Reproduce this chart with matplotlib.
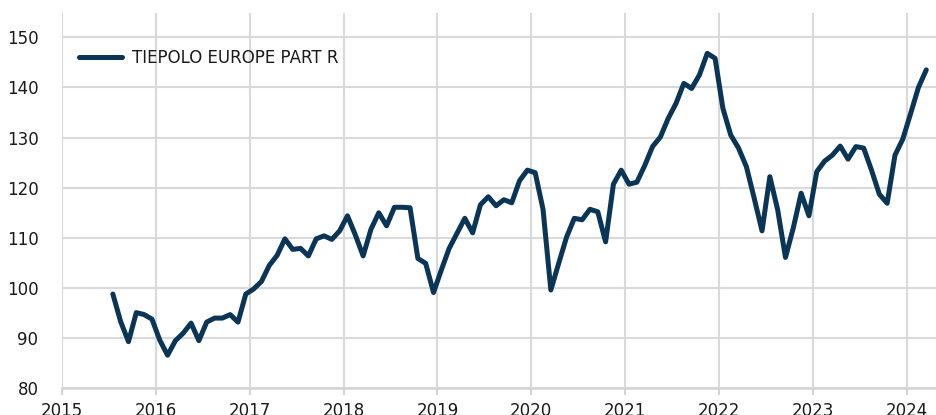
import numpy as np
import matplotlib
matplotlib.use("Agg")
import matplotlib.pyplot as plt

# monthly values, Jul 2015 .. Mar 2024
values = [
    98.8, 93.3, 89.3, 95.1, 94.7, 93.8,                                   # 2015 H2
    89.6, 86.6, 89.5, 91.0, 93.0, 89.5, 93.2, 94.0, 94.0, 94.7, 93.2, 98.8,  # 2016
    99.8, 101.3, 104.5, 106.5, 109.8, 107.7, 107.9, 106.4, 109.8, 110.4, 109.7, 111.4,  # 2017
    114.4, 110.6, 106.4, 111.7, 115.0, 112.4, 116.1, 116.1, 116.0, 105.9, 104.9, 99.1,  # 2018
    103.6, 107.9, 110.9, 113.9, 111.0, 116.6, 118.2, 116.4, 117.6, 117.0, 121.4, 123.5,  # 2019
    123.0, 115.7, 99.6, 104.9, 110.1, 113.9, 113.6, 115.7, 115.2, 109.2, 120.7, 123.5,  # 2020
    120.7, 121.1, 124.4, 128.2, 130.1, 133.8, 136.8, 140.8, 139.8, 142.5, 146.8, 145.8,  # 2021
    135.8, 130.5, 127.9, 124.2, 117.9, 111.4, 122.2, 115.6, 106.1, 112.0, 118.9, 114.4,  # 2022
    123.2, 125.3, 126.5, 128.3, 125.7, 128.2, 127.9, 123.5, 118.7, 116.9, 126.5, 129.7,  # 2023
    134.8, 140.0, 143.5,                                                  # 2024
]
label = "TIEPOLO EUROPE PART R"
years = list(range(2015, 2025))

# month index -> fractional year (mid-month), starting July 2015
x = 2015 + (6.5 + np.arange(len(values))) / 12.0

plt.rcParams['font.family'] = ['DejaVu Sans']

fig = plt.figure(figsize=(9.36, 4.15), dpi=100)
ax = fig.add_axes([62 / 936, 1 - 388.3 / 415, 874 / 936, (388.3 - 12.7) / 415])

ax.plot(x, values, color='#0a3556', lw=3.6, solid_joinstyle='round',
        solid_capstyle='round', label=label)

ax.set_xlim(2015, 2024.312)
ax.set_ylim(80, 154.9)
ax.set_xticks(years)
ax.set_xticklabels([str(y) for y in years])
ax.set_yticks(range(80, 151, 10))

ax.grid(True, color='#d9d9d9', lw=1.5)
ax.set_axisbelow(True)
for s in ['top', 'right', 'left']:
    ax.spines[s].set_visible(False)
ax.spines['bottom'].set_color('#d4d4d4')
ax.spines['bottom'].set_linewidth(1.8)

ax.tick_params(axis='x', length=5, width=1.5, color='#d4d4d4', labelsize=12,
               labelcolor='#1a1a1a', pad=5)
ax.tick_params(axis='y', length=0, labelsize=12, labelcolor='#1a1a1a', pad=17)

ax.legend(loc='center left', bbox_to_anchor=((79 - 62) / 874, 0.8794),
          frameon=False, borderpad=0, borderaxespad=0, handlelength=2.6,
          handletextpad=0.55, fontsize=12, labelcolor='#1a1a1a')

fig.savefig('out.png', dpi=100)
